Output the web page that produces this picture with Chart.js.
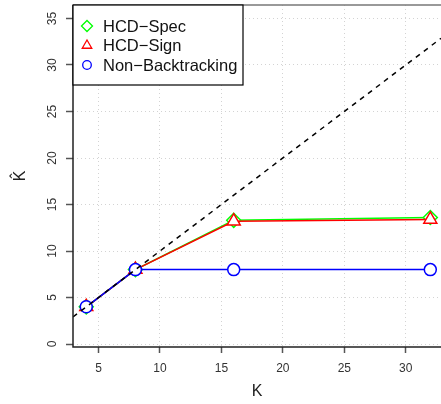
<!DOCTYPE html>
<html>
<head>
<meta charset="utf-8">
<script src="https://cdn.jsdelivr.net/npm/chart.js@4/dist/chart.umd.min.js"></script>
<style>
  body { margin: 0; background: #fff; }
  #wrap { width: 441px; height: 404px; }
</style>
</head>
<body>
<div id="wrap"><canvas id="chart" width="441" height="404"></canvas></div>
<script>
const kValues = [4, 8, 16, 32];
const hcdSpec = [4, 8, 13.3, 13.6];
const hcdSign = [4, 8, 13.2, 13.4];
const nonBacktracking = [4, 8, 8, 8];
const xTicks = [5, 10, 15, 20, 25, 30];
const yTicks = [0, 5, 10, 15, 20, 25, 30, 35];
const xMin = 2.92, xMax = 32.87;
const yMin = -0.32, yMax = 36.45;

const font = "'Liberation Sans', Arial, Helvetica, sans-serif";

function pts(ys) {
  return kValues.map((k, i) => ({ x: k, y: ys[i] }));
}

const seriesStyle = (color, style, radius) => ({
  borderColor: color,
  backgroundColor: "#ffffff",
  pointBorderColor: color,
  pointBackgroundColor: "#ffffff",
  pointStyle: style,
  pointRadius: radius,
  pointBorderWidth: 1.5,
  borderWidth: 1.5,
  showLine: true,
  fill: false,
});

const data = {
  datasets: [
    { label: "ref", data: [xMin, xMax].map(v => ({ x: v, y: v })),
      borderColor: "#000", borderWidth: 1.5, borderDash: [5, 5], pointRadius: 0,
      showLine: true, fill: false, order: 0 },
    { label: "Non\u2212Backtracking", data: pts(nonBacktracking), ...seriesStyle("#0000ff", "circle", 6), order: 1 },
    { label: "HCD\u2212Sign", data: pts(hcdSign), ...seriesStyle("#ff0000", "triangle", 7.5), order: 2 },
    { label: "HCD\u2212Spec", data: pts(hcdSpec), ...seriesStyle("#00ff00", "rectRot", 7), order: 3 },
  ],
};

const legendOrder = ["HCD\u2212Spec", "HCD\u2212Sign", "Non\u2212Backtracking"];

const framePlugin = {
  id: "frame",
  afterDraw(chart) {
    const { ctx, chartArea: a } = chart;
    const ys = chart.scales.y;
    ctx.save();
    // axis lines
    ctx.strokeStyle = "#222";
    ctx.lineWidth = 1.5;
    ctx.beginPath();
    ctx.moveTo(a.left, a.top);
    ctx.lineTo(a.left, a.bottom);
    ctx.lineTo(a.right, a.bottom);
    ctx.stroke();
    ctx.strokeStyle = "#777";
    ctx.beginPath();
    ctx.moveTo(a.left, a.top);
    ctx.lineTo(a.right, a.top);
    ctx.stroke();

    // rotated y tick labels
    ctx.fillStyle = "#333";
    ctx.font = "12px " + font;
    ctx.textAlign = "center";
    ctx.textBaseline = "middle";
    yTicks.forEach(v => {
      const y = ys.getPixelForValue(v);
      ctx.save();
      ctx.translate(53, y);
      ctx.rotate(-Math.PI / 2);
      ctx.fillText(String(v), 0, 0);
      ctx.restore();
    });

    // legend box
    const bx = a.left, by = a.top, bw = 170, bh = 80;
    ctx.fillStyle = "#fff";
    ctx.fillRect(bx, by, bw, bh);
    ctx.strokeStyle = "#000";
    ctx.lineWidth = 1.2;
    ctx.strokeRect(bx, by, bw, bh);
    ctx.font = "16.5px " + font;
    ctx.textAlign = "left";
    ctx.textBaseline = "middle";
    legendOrder.forEach((label, i) => {
      const ds = chart.data.datasets.find(d => d.label === label);
      const cy = by + 21 + i * 19.5;
      ctx.strokeStyle = ds.borderColor;
      ctx.fillStyle = "#fff";
      ctx.lineWidth = 1.3;
      Chart.helpers.drawPoint(ctx, { pointStyle: ds.pointStyle, radius: ds.pointStyle === "circle" ? 4.3 : 5.5, borderWidth: 1.3 }, bx + 14, cy);
      ctx.fillStyle = "#111";
      ctx.fillText(label, bx + 30, cy + 1);
    });
    ctx.restore();
  },
};

new Chart(document.getElementById("chart"), {
  type: "scatter",
  data: data,
  plugins: [framePlugin],
  options: {
    responsive: false,
    animation: false,
    layout: { autoPadding: false, padding: { top: 5, right: 0, left: 0, bottom: 0 } },
    plugins: {
      legend: { display: false },
      tooltip: { enabled: false },
    },
    scales: {
      x: {
        type: "linear",
        min: xMin,
        max: xMax,
        afterBuildTicks: s => { s.ticks = xTicks.map(v => ({ value: v })); },
        afterFit: s => { s.height = 57; s.paddingLeft = 0; s.paddingRight = 0; },
        grid: {
          color: "#d3d3d3",
          lineWidth: 1,
          tickLength: 6,
          tickColor: "#555",
          tickWidth: 1.5,
          tickBorderDash: [],
        },
        border: { display: false, dash: [1, 3] },
        ticks: {
          color: "#333",
          font: { family: font, size: 12 },
          padding: 8,
          maxRotation: 0,
          callback: v => String(v),
        },
        title: {
          display: true,
          text: "K",
          color: "#222",
          font: { family: font, size: 16 },
          padding: { top: 0, bottom: 3 },
        },
      },
      y: {
        type: "linear",
        min: yMin,
        max: yMax,
        afterBuildTicks: s => { s.ticks = yTicks.map(v => ({ value: v })); },
        afterFit: s => { s.width = 73; s.paddingTop = 0; s.paddingBottom = 0; },
        grid: {
          color: "#d3d3d3",
          lineWidth: 1,
          tickLength: 7,
          tickColor: "#555",
          tickWidth: 1.5,
          tickBorderDash: [],
        },
        border: { display: false, dash: [1, 3] },
        ticks: { display: false },
        title: {
          display: true,
          text: "K\u0302",
          color: "#222",
          font: { family: font, size: 16 },
          padding: { top: 11, bottom: 0 },
        },
      },
    },
  },
});
</script>
</body>
</html>
